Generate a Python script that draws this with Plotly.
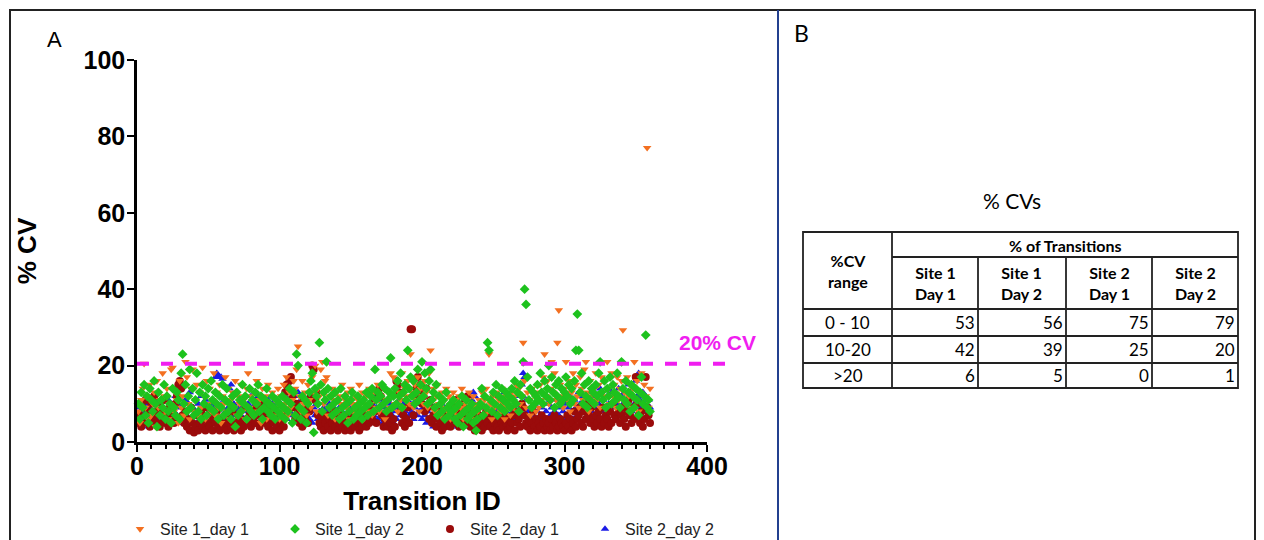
import plotly.graph_objects as go

W, H = 1264, 540
PAGE_OFFSET = 8  # default body margin of the html page

# ---------------- data ----------------
transition_ids = list(range(1, 361))

site1_day1 = [
    8, 5, 11, 14, 20.5, 9, 12, 6, 15, 7, 10, 13, 4, 16, 9, 11, 7, 18, 12, 8,
    14, 6, 10, 19, 19.5, 8, 13, 11, 5, 16, 9, 12, 7, 21, 17, 10, 6, 14, 19, 8,
    11, 15, 7, 13, 9, 19.5, 12, 6, 16, 10, 14, 8, 11, 18, 7, 13, 9, 15, 5, 12,
    10, 17, 8, 14, 6, 11, 13, 9, 16, 7, 12, 10, 15, 8, 11, 6, 14, 18, 9, 12,
    7, 13, 10, 16, 8, 11, 5, 14, 9, 12, 6, 15, 10, 8, 13, 7, 11, 9, 14, 6,
    12, 8, 15, 10, 17, 7, 13, 9, 11, 16, 14, 19, 25, 12, 8, 16, 10, 13, 7, 15,
    11, 9, 17, 13, 20, 8, 14, 12, 19, 21, 10, 16, 17, 7, 12, 9, 14, 11, 6, 13,
    8, 12, 10, 15, 7, 11, 9, 13, 6, 14, 10, 8, 12, 7, 11, 15, 9, 13, 6, 10,
    12, 8, 14, 10, 7, 13, 11, 9, 15, 8, 12, 10, 14, 6, 11, 13, 9, 18, 12, 17,
    10, 16, 8, 13, 11, 18, 9, 14, 12, 16, 10, 23, 13, 9, 15, 11, 17, 8, 14, 12,
    10, 16, 13, 9, 18, 24, 11, 14, 8, 12, 15, 10, 7, 13, 9, 11, 14, 8, 12, 6,
    10, 13, 8, 11, 7, 12, 9, 14, 6, 10, 8, 11, 13, 7, 9, 12, 6, 10, 8, 11,
    9, 13, 7, 11, 14, 8, 23, 10, 6, 12, 9, 13, 7, 11, 8, 14, 10, 6, 12, 9,
    11, 7, 13, 9, 12, 15, 8, 14, 10, 12, 26, 16, 9, 13, 11, 7, 14, 10, 12, 8,
    13, 9, 15, 11, 17, 23, 12, 16, 10, 14, 21, 13, 18, 11, 26, 34.5, 15, 12, 9, 14,
    21, 11, 16, 8, 13, 18, 10, 15, 12, 9, 17, 14, 11, 19, 21, 13, 8, 16, 12, 10,
    14, 18, 11, 15, 9, 17, 13, 16, 12, 21, 14, 10, 18, 12, 15, 9, 17, 11, 14, 16,
    29.3, 13, 10, 17, 12, 15, 9, 14, 21, 11, 16, 8, 13, 18, 10, 15, 12, 77, 9, 14,
]

site1_day2 = [
    10, 6, 13, 9, 15, 7, 12, 5, 14, 11, 8, 16, 10, 4, 13, 7, 11, 9, 15, 6,
    12, 8, 10, 5, 14, 9, 7, 13, 11, 6, 18, 23, 10, 15, 8, 12, 19, 9, 14, 7,
    11, 18, 8, 13, 6, 15, 10, 12, 7, 14, 9, 16, 11, 8, 13, 10, 6, 12, 9, 15,
    7, 11, 14, 8, 10, 6, 12, 9, 4, 13, 7, 11, 8, 15, 10, 12, 6, 9, 14, 8,
    11, 7, 13, 10, 15, 8, 12, 6, 9, 11, 14, 8, 10, 7, 12, 9, 6, 11, 8, 10,
    7, 12, 9, 6, 11, 8, 14, 10, 5, 13, 7, 23, 20, 9, 6, 12, 8, 11, 5, 10,
    13, 16, 18, 2.5, 14, 12, 10, 26, 15, 8, 13, 11, 21, 14, 9, 12, 7, 10, 13, 8,
    11, 6, 14, 9, 7, 12, 10, 5, 8, 11, 13, 6, 9, 7, 12, 10, 8, 6, 11, 9,
    13, 7, 10, 12, 14, 8, 19, 11, 13, 9, 12, 15, 10, 14, 8, 11, 13, 22, 9, 12,
    14, 10, 16, 12, 18, 9, 13, 15, 11, 24, 14, 17, 12, 16, 10, 13, 19, 11, 15, 21,
    12, 18, 14, 10, 16, 19, 11, 13, 9, 15, 7, 12, 10, 8, 11, 6, 13, 9, 7, 10,
    8, 11, 6, 9, 5, 10, 7, 12, 4, 8, 11, 6, 9, 7, 10, 5, 8, 3, 6, 9,
    10, 14, 7, 12, 9, 26, 24, 11, 8, 13, 10, 15, 7, 12, 9, 14, 11, 8, 13, 10,
    12, 9, 14, 11, 16, 10, 13, 8, 15, 12, 21, 40, 36, 17, 11, 14, 9, 13, 10, 12,
    15, 11, 18, 13, 10, 16, 12, 14, 20, 11, 17, 13, 9, 15, 12, 16, 10, 14, 11, 13,
    17, 12, 15, 10, 14, 11, 16, 24, 33.5, 24, 13, 18, 10, 15, 12, 9, 16, 11, 14, 13,
    10, 15, 12, 18, 21, 13, 11, 16, 9, 14, 12, 17, 10, 15, 13, 11, 18, 12, 9, 21,
    14, 11, 16, 10, 13, 8, 15, 12, 9, 14, 11, 7, 13, 17, 10, 12, 28, 9, 11, 8,
]

site2_day1 = [
    5, 7, 4, 9, 6, 11, 5, 8, 4, 10, 6, 12, 7, 5, 9, 4, 8, 6, 11, 5,
    7, 4, 9, 6, 8, 5, 10, 12, 15, 16, 14, 7, 5, 8, 4, 6, 3, 9, 5, 2.5,
    4, 7, 3, 5, 8, 4, 6, 3, 9, 5, 4, 7, 3, 6, 5, 8, 4, 3, 6, 5,
    4, 7, 3, 5, 6, 4, 8, 3, 5, 4, 7, 6, 3, 5, 4, 9, 6, 5, 7, 4,
    6, 8, 5, 9, 7, 4, 10, 6, 8, 5, 7, 4, 9, 6, 3, 5, 8, 4, 6, 3,
    5, 7, 4, 13, 15, 14, 16, 17, 12, 9, 6, 10, 8, 5, 7, 4, 11, 6, 9, 5,
    8, 12, 20, 19, 11, 13, 7, 5, 4, 6, 3, 5, 7, 4, 6, 3, 5, 8, 4, 6,
    3, 5, 7, 4, 6, 3, 5, 4, 7, 3, 5, 6, 4, 8, 5, 3, 6, 4, 7, 5,
    4, 7, 5, 9, 6, 11, 8, 5, 13, 14, 12, 7, 4, 6, 5, 4, 7, 5, 3, 6,
    4, 16, 15, 13, 8, 5, 7, 4, 6, 9, 5, 29.5, 29.5, 7, 12, 14, 17, 13, 15, 10,
    12, 8, 14, 9, 6, 11, 5, 7, 9, 4, 6, 8, 5, 3, 7, 4, 6, 5, 8, 4,
    6, 9, 5, 11, 7, 4, 8, 6, 10, 5, 7, 12, 6, 4, 8, 5, 3, 6, 4, 7,
    5, 3, 6, 4, 8, 5, 7, 4, 6, 3, 5, 7, 4, 3, 6, 5, 4, 7, 5, 3,
    6, 4, 5, 7, 3, 8, 5, 6, 4, 10, 9, 7, 5, 4, 6, 3, 5, 8, 4, 6,
    3, 5, 4, 7, 5, 3, 6, 4, 5, 3, 6, 4, 7, 5, 3, 4, 6, 5, 4, 3,
    5, 7, 4, 6, 3, 5, 8, 4, 6, 7, 9, 5, 4, 8, 6, 10, 7, 5, 9, 6,
    4, 7, 5, 8, 6, 4, 9, 5, 7, 6, 4, 8, 5, 10, 7, 6, 12, 8, 5, 7,
    9, 6, 4, 8, 11, 7, 5, 9, 6, 17, 10, 7, 5, 8, 4, 6, 17, 9, 7, 5,
]

site2_day2 = [
    6, 9, 5, 8, 7, 10, 6, 4, 9, 7, 5, 8, 11, 6, 10, 7, 5, 9, 6, 8,
    7, 11, 6, 9, 5, 8, 12, 7, 10, 6, 9, 5, 8, 11, 7, 10, 13, 6, 9, 7,
    8, 5, 10, 7, 12, 6, 9, 11, 7, 5, 8, 10, 6, 9, 17, 18, 17.5, 17, 17, 16.5,
    11, 8, 6, 9, 14, 15, 7, 10, 5, 8, 6, 9, 7, 11, 5, 8, 6, 10, 7, 12,
    9, 6, 11, 7, 12, 8, 5, 10, 6, 9, 7, 11, 8, 5, 10, 7, 9, 6, 8, 5,
    10, 7, 9, 12, 6, 13, 8, 11, 7, 10, 12, 9, 13, 6, 11, 8, 12, 10, 7, 9,
    6, 8, 5, 9, 7, 10, 6, 8, 4, 7, 9, 5, 8, 6, 10, 7, 5, 9, 6, 8,
    7, 9, 5, 8, 6, 10, 4, 7, 9, 5, 8, 6, 4, 7, 9, 5, 6, 8, 4, 7,
    9, 6, 8, 5, 10, 7, 12, 9, 6, 11, 8, 5, 7, 9, 6, 4, 8, 10, 7, 5,
    8, 6, 9, 11, 7, 5, 10, 8, 6, 9, 7, 10, 8, 6, 9, 11, 7, 8, 10, 6,
    9, 7, 5, 8, 6, 10, 7, 4, 9, 6, 8, 5, 7, 4, 6, 9, 5, 8, 6, 4,
    7, 5, 8, 6, 4, 9, 7, 5, 6, 8, 4, 7, 5, 9, 11, 13, 12, 6, 8, 5,
    7, 4, 6, 9, 5, 8, 6, 4, 7, 10, 12, 8, 6, 9, 5, 7, 11, 13, 8, 6,
    9, 7, 5, 8, 6, 10, 12, 7, 9, 15, 18, 17, 11, 8, 6, 9, 5, 7, 10, 6,
    8, 5, 7, 9, 6, 4, 8, 10, 6, 7, 9, 5, 8, 6, 11, 7, 9, 5, 8, 6,
    10, 7, 9, 12, 8, 6, 11, 9, 7, 13, 10, 8, 12, 6, 9, 11, 7, 10, 8, 13,
    9, 12, 7, 10, 14, 8, 11, 9, 6, 12, 10, 8, 13, 9, 11, 7, 10, 14, 8, 12,
    10, 13, 9, 11, 15, 12, 8, 14, 10, 16, 12, 18, 11, 9, 13, 10, 12, 8, 11, 9,
]

cv_threshold = 20.5
x_ticks = [0, 100, 200, 300, 400]
y_ticks = [0, 20, 40, 60, 80, 100]

# table (panel B)
table_title = "% CVs"
table_group_header = "% of Transitions"
table_first_header = "%CV<br>range"
table_col_headers = ["Site 1<br>Day 1", "Site 1<br>Day 2", "Site 2<br>Day 1", "Site 2<br>Day 2"]
table_row_labels = ["0 - 10", "10-20", ">20"]
table_site1_day1 = [53, 42, 6]
table_site1_day2 = [56, 39, 5]
table_site2_day1 = [75, 25, 0]
table_site2_day2 = [79, 20, 1]

# ---------------- helpers (screen pixels -> paper fractions) ----------------
def px(x):
    return (x - PAGE_OFFSET) / W

def py(y):
    return 1 - (y - PAGE_OFFSET) / H

# plot area geometry (screen pixels)
X0_PX, X400_PX = 137, 707
Y0_PX, Y100_PX = 442, 60

fig = go.Figure()

series = [
    ("Site 2_day 2", site2_day2, "#1A1AE6", "triangle-up", 7.5, 4),
    ("Site 2_day 1", site2_day1, "#9A0B0B", "circle", 8, 3),
    ("Site 1_day 1", site1_day1, "#F37021", "triangle-down", 7.5, 1),
    ("Site 1_day 2", site1_day2, "#1DC21D", "diamond", 7.5, 2),
]
for name, vals, col, sym, sz, rank in series:
    fig.add_trace(go.Scatter(
        x=transition_ids, y=vals, mode="markers", name=name,
        marker=dict(symbol=sym, size=sz, color=col, line=dict(width=0)),
        cliponaxis=False, legendrank=rank,
    ))

fig.update_layout(
    template="none",
    width=W, height=H,
    margin=dict(l=0, r=0, t=0, b=0, autoexpand=False),
    paper_bgcolor="white", plot_bgcolor="white",
    font=dict(family="Liberation Sans, Arial, sans-serif", color="black"),
    showlegend=True,
    legend=dict(
        orientation="h", x=px(120), xanchor="left", y=py(529), yanchor="middle",
        font=dict(size=16, color="#222"),
        entrywidth=110, bgcolor="rgba(0,0,0,0)", borderwidth=0,
    ),
    xaxis=dict(
        domain=[px(X0_PX), px(X400_PX)], range=[0, 400], automargin=False,
        showgrid=False, zeroline=False, showline=True, linecolor="black", linewidth=2.5,
        ticks="outside", ticklen=7, tickwidth=2, tickcolor="black",
        tickmode="array", tickvals=x_ticks, ticklabelstandoff=-7,
        tickfont=dict(size=25, family="Liberation Sans, Arial", weight="bold"),
        minor=dict(ticks="outside", ticklen=4, tickwidth=1.5, tickcolor="black", dtick=10, tick0=0),
        title=dict(text="<b>Transition ID</b>", font=dict(size=26), standoff=14),
    ),
    yaxis=dict(
        domain=[py(Y0_PX), py(Y100_PX)], range=[0, 100], automargin=False,
        showgrid=False, zeroline=False, showline=True, linecolor="black", linewidth=2.5,
        ticks="outside", ticklen=7, tickwidth=2, tickcolor="black",
        tickmode="array", tickvals=y_ticks, ticklabelstandoff=-3,
        tickfont=dict(size=25, family="Liberation Sans, Arial", weight="bold"),
        title=dict(text="<b>% CV</b>", font=dict(size=26), standoff=40),
    ),
)

shapes = []
# outer frame & divider
shapes.append(dict(type="rect", xref="paper", yref="paper", x0=px(10), x1=px(1255), y0=py(560), y1=py(10),
                   line=dict(color="#222", width=2)))
shapes.append(dict(type="line", xref="paper", yref="paper", x0=px(778), x1=px(778), y0=py(10), y1=py(560),
                   line=dict(color="#23408F", width=2)))
# 20% CV dashed reference line
shapes.append(dict(type="line", xref="x domain", yref="y", x0=0, x1=(737 - X0_PX) / (X400_PX - X0_PX),
                   y0=cv_threshold, y1=cv_threshold,
                   line=dict(color="#F01EF0", width=4, dash="dash")))

# table grid
col_x = [803, 892, 978, 1066, 1152, 1238]
row_y = [232, 257, 309, 336, 363, 388]
tline = dict(color="#222", width=1.8)
shapes.append(dict(type="rect", xref="paper", yref="paper", x0=px(col_x[0]), x1=px(col_x[-1]),
                   y0=py(row_y[-1]), y1=py(row_y[0]), line=tline))
shapes.append(dict(type="line", xref="paper", yref="paper", x0=px(col_x[1]), x1=px(col_x[1]),
                   y0=py(row_y[0]), y1=py(row_y[-1]), line=tline))
for cx in col_x[2:-1]:
    shapes.append(dict(type="line", xref="paper", yref="paper", x0=px(cx), x1=px(cx),
                       y0=py(row_y[1]), y1=py(row_y[-1]), line=tline))
shapes.append(dict(type="line", xref="paper", yref="paper", x0=px(col_x[1]), x1=px(col_x[-1]),
                   y0=py(row_y[1]), y1=py(row_y[1]), line=tline))
for ry in row_y[2:-1]:
    shapes.append(dict(type="line", xref="paper", yref="paper", x0=px(col_x[0]), x1=px(col_x[-1]),
                       y0=py(ry), y1=py(ry), line=tline))
fig.update_layout(shapes=shapes)

ann = []
def text(x, y, s, size, xanchor="center", family="Liberation Sans, Arial", color="black"):
    ann.append(dict(xref="paper", yref="paper", x=px(x), y=py(y), text=s, showarrow=False,
                    xanchor=xanchor, yanchor="middle", font=dict(size=size, family=family, color=color)))

text(54, 40, "A", 22)
text(801, 33, "B", 23, family="Lato, Liberation Sans")
# 20% CV label
ann.append(dict(xref="x domain", yref="y", x=(717 - X0_PX) / (X400_PX - X0_PX), y=26.0,
                text="<b>20% CV</b>", showarrow=False, xanchor="center", yanchor="middle",
                font=dict(size=21, color="#F01EF0")))

tfont = "Lato, Liberation Sans"
text(1012, 200, table_title, 21, family=tfont)
text((col_x[1] + col_x[-1]) / 2, (row_y[0] + row_y[1]) / 2 + 1, "<b>" + table_group_header + "</b>", 16, family=tfont)
text((col_x[0] + col_x[1]) / 2, (row_y[0] + row_y[2]) / 2, "<b>" + table_first_header + "</b>", 16, family=tfont)
for i, h in enumerate(table_col_headers):
    text((col_x[i + 1] + col_x[i + 2]) / 2, (row_y[1] + row_y[2]) / 2, "<b>" + h + "</b>", 16, family=tfont)
cols = [table_site1_day1, table_site1_day2, table_site2_day1, table_site2_day2]
for r, lab in enumerate(table_row_labels):
    yc = (row_y[2 + r] + row_y[3 + r]) / 2
    text((col_x[0] + col_x[1]) / 2, yc, lab, 17, family=tfont)
    for c, colvals in enumerate(cols):
        text(col_x[c + 2] - 1, yc, str(colvals[r]), 17, xanchor="right", family=tfont)

fig.update_layout(annotations=ann)

fig.write_html("out.html")
